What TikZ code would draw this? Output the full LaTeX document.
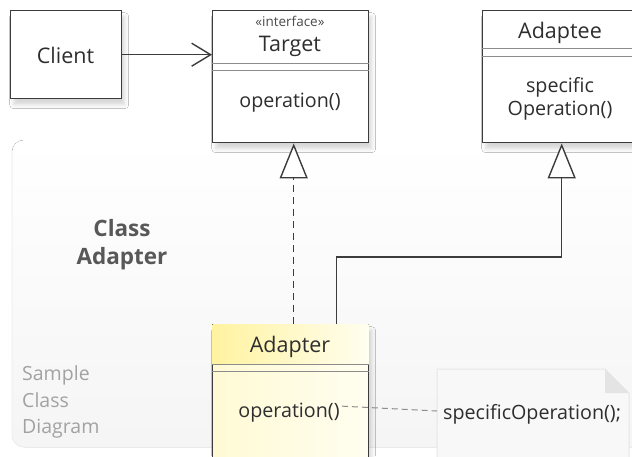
\documentclass[tikz,border=0pt]{standalone}
\usepackage{fontspec}
\setmainfont{Open Sans}
\usetikzlibrary{arrows.meta,shadows.blur,calc}
\definecolor{ink}{HTML}{3C3C3C}
\definecolor{rule}{HTML}{8C8C8C}
\definecolor{txt}{HTML}{2E2E2E}
\definecolor{soft}{HTML}{A2A2A2}
\definecolor{titlegray}{HTML}{585858}
\definecolor{notefill}{HTML}{F8F8F8}
\definecolor{noteedge}{HTML}{E6E6E6}
\definecolor{notefold}{HTML}{E4E4E4}
\definecolor{adtop}{HTML}{FFF3A0}
\definecolor{adlight}{HTML}{FFFEF0}
\newcommand\namefont{\fontsize{21.5}{24}\selectfont}
\newcommand\opfont{\fontsize{19.7}{22}\selectfont}
\newcommand\stereofont{\fontsize{13.5}{15}\selectfont}
\tikzset{
  classbox/.style={draw=ink, line width=1.4pt, fill=white, anchor=north west,
    minimum width=156pt, inner sep=0pt,
    blur shadow={shadow xshift=3pt, shadow yshift=-6pt, shadow opacity=16, shadow blur radius=4pt}},
  txtlbl/.style={anchor=base, inner sep=0pt, text=txt},
  divider/.style={draw=rule, line width=0.9pt},
  assoc/.style={draw=ink, line width=1.4pt,
    -{Straight Barb[length=19pt,width=23pt,line width=1.4pt]}},
  inherit/.style={draw=ink, line width=1.4pt,
    -{Triangle[length=35pt,width=28pt,fill=white,line width=1.4pt]}},
  realize/.style={inherit, dash pattern=on 7pt off 5pt},
  noteline/.style={draw=rule, line width=1pt, dash pattern=on 6pt off 4pt},
}
\begin{document}
\begin{tikzpicture}[x=1pt, y=-1pt]
\useasboundingbox (0,0) rectangle (632,456);
\fill[white] (0,0) rectangle (632,456);

% faint diagram frame
\fill[top color=white, bottom color=black!4, rounded corners=12pt] (12,140) rectangle (700,447);
\draw[black!6, line width=1pt, rounded corners=12pt] (12,150) -- (12,447) -- (700,447);

% frame captions
\node[anchor=base, inner sep=0pt, text=titlegray, font=\bfseries\fontsize{22.5}{26}\selectfont] (captionA) at (122,236) {Class};
\node[anchor=base, inner sep=0pt, text=titlegray, font=\bfseries\fontsize{22.5}{26}\selectfont] (captionB) at (122,264) {Adapter};
\node[anchor=base west, inner sep=0pt, text=soft, font=\fontsize{19.5}{22}\selectfont] (sampleA) at (22,380) {Sample};
\node[anchor=base west, inner sep=0pt, text=soft, font=\fontsize{19.5}{22}\selectfont] (sampleB) at (22,407) {Class};
\node[anchor=base west, inner sep=0pt, text=soft, font=\fontsize{19.5}{22}\selectfont] (sampleC) at (22,433) {Diagram};

% class boxes
\node[classbox, minimum width=111pt, minimum height=88pt] (client) at (10,10) {};
\node[classbox, minimum height=132pt] (target) at (212,10) {};
\node[classbox, minimum height=132pt] (adaptee) at (482,10) {};
\node[classbox, minimum height=190pt, left color=adtop!45, right color=adlight] (adapter) at (212,324) {};
\fill[left color=adtop, right color=adlight]
  ($(adapter.north west)+(0.7,0.7)$) rectangle ($(adapter.north east)+(-0.7,40)$);

% compartment dividers
\draw[divider] ($(target.north west)+(0,53)$) -- ($(target.north east)+(0,53)$);
\draw[divider] ($(target.north west)+(0,60)$) -- ($(target.north east)+(0,60)$);
\draw[divider] ($(adaptee.north west)+(0,38)$) -- ($(adaptee.north east)+(0,38)$);
\draw[divider] ($(adaptee.north west)+(0,46)$) -- ($(adaptee.north east)+(0,46)$);
\draw[divider] ($(adapter.north west)+(0,40)$) -- ($(adapter.north east)+(0,40)$);
\draw[divider] ($(adapter.north west)+(0,47)$) -- ($(adapter.north east)+(0,47)$);

% class texts
\node[txtlbl, font=\namefont] (clientname) at (65.5,63) {Client};
\node[txtlbl, font=\stereofont, text=black!70] (stereo) at (290,26) {«interface»};
\node[txtlbl, font=\namefont] (targetname) at (290,51) {Target};
\node[txtlbl, font=\opfont] (targetop) at (290,107) {operation()};
\node[txtlbl, font=\namefont] (adapteename) at (560,38) {Adaptee};
\node[txtlbl, font=\opfont] (adapteeopA) at (560,92) {specific};
\node[txtlbl, font=\opfont] (adapteeopB) at (560,115) {Operation()};
\node[txtlbl, font=\namefont] (adaptername) at (290,352) {Adapter};
\node[txtlbl, font=\opfont] (adapterop) at (289,417) {operation()};

% note with folded corner
\path[draw=noteedge, fill=notefill, line width=1pt]
  (437,369) -- (605,369) -- (629,393) -- (629,480) -- (437,480) -- cycle;
\fill[notefold] (605,369) -- (605,393) -- (629,393) -- cycle;
\coordinate (notein) at (437,411);
\node[anchor=base west, inner sep=0pt, text=txt, font=\opfont] (notetext) at (443,419) {specificOperation();};

% connectors
\draw[assoc] (client.east) -- (client.east -| target.west);
\draw[realize] ([xshift=3pt]adapter.north) -- ([xshift=3pt]target.south);
\draw[inherit] ([xshift=46pt]adapter.north) -- ++(0,-67) -| ([xshift=1pt]adaptee.south);
\draw[noteline] ($(adapterop.east)+(2,-6)$) -- (notein);
\end{tikzpicture}
\end{document}
